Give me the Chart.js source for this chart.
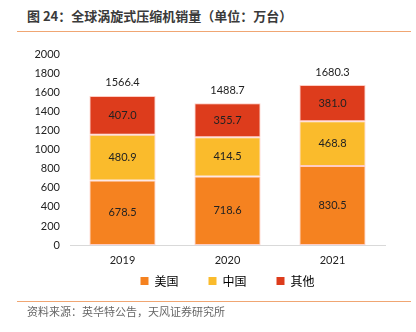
<!DOCTYPE html>
<html>
<head>
<meta charset="utf-8">
<script src="https://cdn.jsdelivr.net/npm/chart.js@4"></script>
<style>
  html, body { margin: 0; padding: 0; background: #fff; }
  body { width: 416px; height: 332px; position: relative; overflow: hidden;
         font-family: "Noto Sans CJK SC", "Noto Sans", sans-serif; }
  .title { position: absolute; left: 27px; top: 6px; font-size: 13px; font-weight: bold; color: #3a3a3a; }
  .rule { position: absolute; left: 17px; width: 394px; height: 1px; background: #f0a673; }
  .source { position: absolute; left: 27px; top: 303px; font-size: 11px; color: #666; }
  #box { position: absolute; left: 0; top: 38px; width: 416px; height: 281px; }
</style>
</head>
<body>
<div class="title">图 24：全球涡旋式压缩机销量（单位：万台）</div>
<div class="rule" style="top:31px"></div>
<div id="box"><canvas id="chart"></canvas></div>
<div class="rule" style="top:301px"></div>
<div class="source">资料来源：英华特公告，天风证券研究所</div>

<script>
// 年份与各地区销量（万台）
const years = ['2019', '2020', '2021'];
const usa = [678.5, 718.6, 830.5];
const china = [480.9, 414.5, 468.8];
const others = [407.0, 355.7, 381.0];
const totals = [1566.4, 1488.7, 1680.3];

const numFont = 'Lato, "Liberation Sans", sans-serif';

// 柱内数值 + 柱顶合计
const valueLabels = {
    id: 'valueLabels',
    afterDatasetsDraw(chart) {
        const ctx = chart.ctx;
        ctx.save();
        ctx.font = '11px ' + numFont;
        ctx.fillStyle = '#222';
        ctx.textAlign = 'center';
        ctx.textBaseline = 'middle';
        chart.data.datasets.forEach((ds, i) => {
            chart.getDatasetMeta(i).data.forEach((bar, j) => {
                const mid = (bar.y + bar.base) / 2;
                ctx.fillText(ds.data[j].toFixed(1), bar.x, mid);
            });
        });
        const topMeta = chart.getDatasetMeta(chart.data.datasets.length - 1);
        const y = chart.scales.y;
        topMeta.data.forEach((bar, j) => {
            ctx.fillText(totals[j].toFixed(1), bar.x, y.getPixelForValue(totals[j]) - 13);
        });
        ctx.restore();
    }
};

// 图例上提，与年份标签共用同一段空间
const legendUp = {
    id: 'legendUp',
    afterLayout(chart) {
        const lg = chart.legend;
        if (!lg) return;
        lg.top = chart.chartArea.bottom;
        lg.bottom = lg.top + lg.height;
    }
};

document.addEventListener('DOMContentLoaded', function () {
    const ctx = document.getElementById('chart').getContext('2d');

    const mk = (label, data, color) => ({
        label: label,
        data: data,
        backgroundColor: color,
        borderColor: 'rgba(255,200,190,0.9)',
        borderWidth: 1,
        borderSkipped: false,
        categoryPercentage: 0.63,
        barPercentage: 1
    });

    new Chart(ctx, {
        type: 'bar',
        data: {
            labels: years,
            datasets: [
                mk('美国', usa, '#f58220'),
                mk('中国', china, '#fabb2c'),
                mk('其他', others, '#dd3c1c')
            ]
        },
        options: {
            responsive: true,
            maintainAspectRatio: false,
            animation: false,
            layout: { padding: { left: 0, right: 31, top: 3, bottom: 0 } },
            scales: {
                x: {
                    stacked: true,
                    grid: { display: false, drawTicks: false },
                    border: { color: '#d9d9d9', width: 1 },
                    afterFit(scale) { scale.height = 22; },
                    ticks: { color: '#222', font: { family: numFont, size: 11 }, padding: 9 }
                },
                y: {
                    stacked: true,
                    min: 0,
                    max: 2000,
                    grid: { display: false, drawTicks: false },
                    border: { display: false },
                    afterFit(scale) { scale.width = 70; },
                    ticks: {
                        stepSize: 200,
                        autoSkip: false,
                        color: '#222',
                        font: { family: numFont, size: 11 },
                        padding: 10,
                        callback: v => String(v)
                    }
                }
            },
            plugins: {
                legend: {
                    position: 'bottom',
                    fullSize: false,
                    labels: {
                        boxWidth: 8,
                        boxHeight: 8,
                        padding: 30,
                        color: '#222',
                        font: { family: '"Noto Sans CJK SC", sans-serif', size: 12 },
                        generateLabels(chart) {
                            return chart.data.datasets.map((d, i) => ({
                                text: d.label,
                                fillStyle: d.backgroundColor,
                                strokeStyle: d.backgroundColor,
                                lineWidth: 0,
                                datasetIndex: i
                            }));
                        }
                    }
                },
                tooltip: { enabled: false }
            }
        },
        plugins: [valueLabels, legendUp]
    });
});
</script>
</body>
</html>
